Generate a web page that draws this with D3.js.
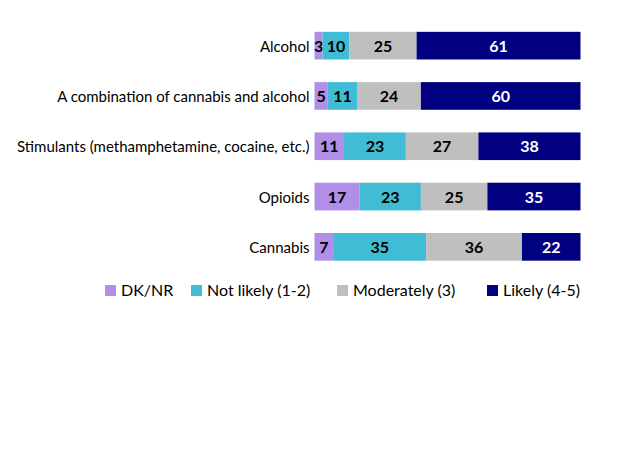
<!DOCTYPE html>
<html><head><meta charset="utf-8">
<script src="https://cdn.jsdelivr.net/npm/d3@7"></script>
<style>body{margin:0;background:#fff;}svg{display:block;font-family:Lato,"Open Sans",sans-serif;}</style>
</head><body>
<svg id="c" width="624" height="468"></svg>
<script>
const categories = ["Alcohol","A combination of cannabis and alcohol","Stimulants (methamphetamine, cocaine, etc.)","Opioids","Cannabis"];
const seriesNames = ["DK/NR","Not likely (1-2)","Moderately (3)","Likely (4-5)"];
const dknr = [3,5,11,17,7];
const notLikely = [10,11,23,23,35];
const moderately = [25,24,27,25,36];
const likely = [61,60,38,35,22];
const colors = ["#B18FE8","#40BCD4","#BFBFBF","#000080"];
const labelColors = ["#000","#000","#000","#fff"];

const rows = categories.map((c,i)=>({cat:c, s0:dknr[i], s1:notLikely[i], s2:moderately[i], s3:likely[i]}));
const keys = ["s0","s1","s2","s3"];
const stack = d3.stack().keys(keys).offset(d3.stackOffsetExpand)(rows);

const svg = d3.select("#c");
const x = d3.scaleLinear().domain([0,1]).range([314.5,580.5]);
const y = d3.scaleBand().domain(categories).range([20.5,272]).paddingInner(0.45).paddingOuter(0.225);

const g = svg.append("g");
stack.forEach((layer,k)=>{
  const lg = g.append("g");
  lg.selectAll("rect").data(layer).join("rect")
    .attr("x",d=>x(d[0])).attr("width",d=>x(d[1])-x(d[0]))
    .attr("y",d=>y(d.data.cat)).attr("height",y.bandwidth())
    .attr("fill",colors[k]);
  lg.selectAll("text").data(layer).join("text")
    .attr("x",d=>(x(d[0])+x(d[1]))/2)
    .attr("y",d=>y(d.data.cat)+y.bandwidth()/2+0.5)
    .attr("dy","0.35em").attr("text-anchor","middle")
    .attr("font-size",16).attr("font-weight","bold")
    .attr("fill",labelColors[k])
    .text(d=>d.data[keys[k]]);
});

const yAxis = d3.axisLeft(y).tickSize(0).tickPadding(5);
const ax = svg.append("g").attr("transform","translate(314.5,0)").call(yAxis);
ax.select(".domain").remove();
ax.selectAll("text").attr("font-size",15).attr("fill","#000").attr("font-family","Lato,'Open Sans',sans-serif").attr("dy","0.4em");

const legendX = [105,191,337,487];
const lg = svg.append("g");
seriesNames.forEach((n,i)=>{
  lg.append("rect").attr("x",legendX[i]).attr("y",285).attr("width",11).attr("height",11).attr("fill",colors[i]);
  lg.append("text").attr("x",legendX[i]+16).attr("y",290.5).attr("dy","0.35em")
    .attr("font-size",16).attr("fill","#000").text(n);
});
</script>
</body></html>
